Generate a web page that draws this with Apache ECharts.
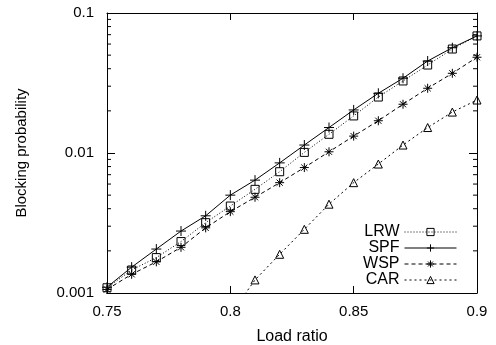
<!DOCTYPE html>
<html>
<head>
<meta charset="utf-8">
<script src="https://cdn.jsdelivr.net/npm/echarts@6/dist/echarts.min.js"></script>
<style>html,body{margin:0;padding:0;background:#fff}#c{width:496px;height:345px}</style>
</head>
<body>
<div id="c"></div>
<script>
var loadRatio = [0.75,0.76,0.77,0.78,0.79,0.80,0.81,0.82,0.83,0.84,0.85,0.86,0.87,0.88,0.89,0.90];
var lrw = [0.00109,0.00146,0.00179,0.00233,0.00318,0.00418,0.0055,0.00735,0.0101,0.0136,0.0184,0.0251,0.0327,0.0425,0.0553,0.0686];
var spf = [0.00110,0.00153,0.00206,0.00277,0.00356,0.0050,0.0064,0.0085,0.0114,0.0152,0.0203,0.0267,0.0342,0.0454,0.0565,0.0686];
var wsp = [0.00106,0.00136,0.00167,0.00212,0.00292,0.00381,0.00483,0.00614,0.00787,0.0102,0.0132,0.0170,0.0223,0.0290,0.0371,0.0483];
var car = [null,null,null,null,null,0.00070,0.00124,0.00189,0.00285,0.00431,0.00614,0.00834,0.0114,0.0152,0.0196,0.0239];
var xTicks = [0.75,0.8,0.85,0.9];
var yTickLabels = ['0.001','0.01','0.1'];
var yMinorTicks = [0.002,0.003,0.004,0.005,0.006,0.007,0.008,0.009,0.02,0.03,0.04,0.05,0.06,0.07,0.08,0.09];

function pairs(ys){ return loadRatio.map(function(x,i){ return ys[i]==null ? null : [x, ys[i]]; }).filter(function(p){return p;}); }

var FONT = "'Liberation Sans', Arial, Helvetica, sans-serif";
var plusPath = 'path://M5,0L5,10M0,5L10,5';
var starPath = 'path://M5,0L5,10M0,5L10,5M1.6,1.6L8.4,8.4M8.4,1.6L1.6,8.4';
var stroke = {color:'transparent', borderColor:'#000', borderWidth:1};

var chart = echarts.init(document.getElementById('c'), null, {renderer:'canvas'});
function legendAt(name, top){
  return {data:[name], orient:'vertical', align:'right', right:39, top:top, padding:0,
    itemWidth:52, itemHeight:9, itemGap:0,
    lineStyle:{width:1},
    itemStyle:{color:'transparent', borderColor:'#000', borderWidth:1},
    textStyle:{fontFamily:FONT, fontSize:16, color:'#000'}, selectedMode:false};
}
var option = {
  animation:false,
  backgroundColor:'#fff',
  legend:[legendAt('LRW',224), legendAt('SPF',240), legendAt('WSP',256), legendAt('CAR',272)],
  grid:{left:107, right:19, top:13, bottom:52, containLabel:false, outerBoundsMode:'none'},
  xAxis:[{
    type:'value', min:0.75, max:0.9, interval:0.05,
    name:'Load ratio', nameLocation:'middle', nameGap:36,
    nameTextStyle:{fontFamily:FONT, fontSize:16, color:'#000'},
    axisLine:{lineStyle:{color:'#000', width:1}},
    axisTick:{inside:true, length:7, lineStyle:{color:'#000'}},
    axisLabel:{fontFamily:FONT, fontSize:15, color:'#000', margin:11,
      formatter:function(v){ for (var i=0;i<xTicks.length;i++){ if (Math.abs(v-xTicks[i])<1e-6) return String(xTicks[i]); } return ''; }},
    splitLine:{show:false}
  },{
    type:'value', min:0.75, max:0.9, interval:0.05, position:'top',
    axisLine:{lineStyle:{color:'#000', width:1}},
    axisTick:{inside:true, length:7, lineStyle:{color:'#000'}},
    axisLabel:{show:false}, splitLine:{show:false}
  }],
  yAxis:[{
    type:'log', logBase:10, min:0.001, max:0.1,
    name:'Blocking probability', nameLocation:'middle', nameGap:78,
    nameTextStyle:{fontFamily:FONT, fontSize:15, color:'#000'},
    axisLine:{lineStyle:{color:'#000', width:1}},
    axisTick:{inside:true, length:8, lineStyle:{color:'#000'}},
    axisLabel:{fontFamily:FONT, fontSize:15, color:'#000', margin:13,
      formatter:function(v){ var e=Math.round(Math.log10(v)); return yTickLabels[e+3] || ''; }},
    splitLine:{show:false}
  },{
    type:'log', logBase:10, min:0.001, max:0.1, position:'right',
    axisLine:{lineStyle:{color:'#000', width:1}},
    axisTick:{inside:true, length:8, lineStyle:{color:'#000'}},
    axisLabel:{show:false}, splitLine:{show:false}
  }],
  series:[
    {name:'LRW', type:'line', data:pairs(lrw), clip:true, symbol:'rect', symbolSize:8,
      itemStyle:stroke, lineStyle:{color:'#000', width:1, type:[1,2]}},
    {name:'SPF', type:'line', data:pairs(spf), clip:true, symbol:plusPath, symbolSize:10,
      itemStyle:stroke, lineStyle:{color:'#000', width:1, type:'solid'}},
    {name:'WSP', type:'line', data:pairs(wsp), clip:true, symbol:starPath, symbolSize:9,
      itemStyle:stroke, lineStyle:{color:'#000', width:1, type:[4,3]}},
    {name:'CAR', type:'line', data:pairs(car), clip:true, symbol:'triangle', symbolSize:8,
      itemStyle:stroke, lineStyle:{color:'#000', width:1, type:[2,3]}},
    {type:'custom', silent:true, data:yMinorTicks.map(function(v){return [0.75, v];}),
      renderItem:function(params, api){
        var v = api.value(1);
        var l = api.coord([0.75, v]);
        var r = api.coord([0.9, v]);
        return {type:'group', children:[
          {type:'line', shape:{x1:l[0], y1:l[1], x2:l[0]+4, y2:l[1]}, style:{stroke:'#000', lineWidth:1}},
          {type:'line', shape:{x1:r[0], y1:r[1], x2:r[0]-4, y2:r[1]}, style:{stroke:'#000', lineWidth:1}}
        ]};
      }}
  ]
};
chart.setOption(option);
</script>
</body>
</html>
